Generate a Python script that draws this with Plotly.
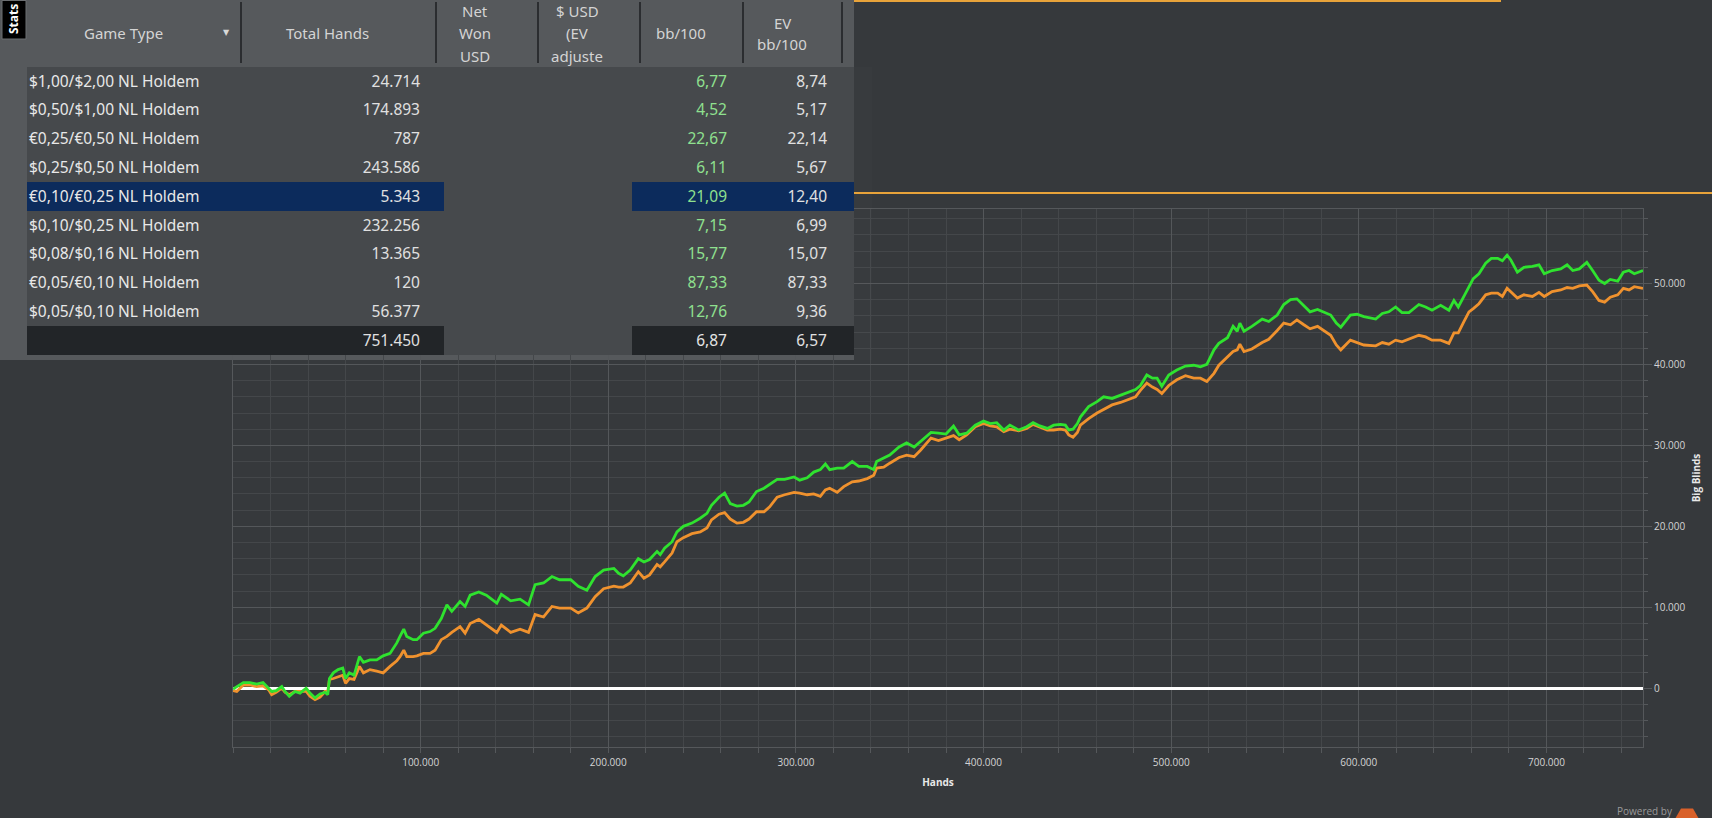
import plotly.graph_objects as go

W, H = 1712, 818

# cumulative result over the session: hands (thousands), bb won (thousands), EV bb (thousands)
hands_k = [0, 2, 5.5, 9, 12.6, 16, 19, 20.6, 23, 26, 27.7, 30, 33, 35.7, 39, 41, 43.7, 46.4, 49, 50.5,
           51.4, 53.5, 56, 58.5, 60, 62, 64.5, 67.4, 69.5, 73, 76.6, 80, 83.7, 87.3, 89, 91, 92.6, 96, 98,
           101.5, 105, 107.7, 111, 114, 116.6, 121, 123.7, 126.4, 131, 135, 140.6, 143, 148, 153, 157.5,
           161, 165.5, 170, 174, 180, 184, 188.6, 193, 197.5, 203, 205.5, 208, 211.7, 216, 219, 222, 226,
           227.7, 230, 234, 236.6, 240, 244.6, 249, 252.6, 255, 259, 262, 265, 268.6, 272, 275, 279, 283,
           286, 290, 294, 299, 302, 306, 309.5, 313, 315.7, 318, 322, 325.5, 330, 333.5, 338, 341.5, 343,
           346.8, 350, 355, 359, 363, 366.4, 372, 376, 380, 384, 387, 391, 395.6, 400, 403.6, 407, 410.8,
           414, 418.7, 423, 426.4, 430, 434, 437.4, 441, 443.6, 445.4, 447.7, 450, 451.6, 456, 460.5, 464,
           468.5, 473, 477.4, 481, 483.6, 487, 490, 492.5, 495, 498.7, 503, 507.6, 512, 515.6, 519, 522.8,
           525.4, 530, 533, 535.2, 536.6, 538.8, 543, 548.5, 552, 556.5, 560, 563.6, 567, 570.7, 574, 578,
           581.5, 585, 588, 590.4, 595.5, 599, 602.7, 609, 612.5, 616, 619.6, 623, 626.7, 632, 635.6, 639,
           643.6, 648, 650.7, 653, 656, 658.7, 661, 664, 667.6, 670.6, 674, 676.5, 679, 681, 684.5, 688,
           692.5, 696, 698.8, 703, 707.6, 711, 714, 717.5, 721.5, 724.6, 728, 731, 734, 738, 741, 744,
           746.8, 751.45]
won_k = [-0.1, 0.2, 0.7, 0.7, 0.5, 0.7, 0.0, -0.4, -0.3, 0.2, -0.4, -1.0, -0.4, -0.6, 0.0, -0.6, -1.2, -0.7, -0.5, -0.8,
         1.2, 1.9, 2.3, 2.5, 1.2, 1.9, 1.6, 3.9, 3.2, 3.5, 3.5, 4.0, 4.3, 5.6, 6.4, 7.3, 6.4, 6.0, 6.0,
         6.8, 7.0, 7.4, 8.6, 10.3, 9.5, 10.7, 10.1, 11.5, 11.9, 11.5, 10.5, 11.6, 10.8, 11.0, 10.3,
         12.8, 13.0, 13.8, 13.4, 13.4, 12.6, 12.1, 13.8, 14.6, 14.8, 14.2, 13.9, 14.6, 16.0, 15.6, 15.9, 16.9,
         16.5, 17.3, 18.1, 19.3, 20.0, 20.4, 21.0, 21.6, 22.6, 23.6, 24.1, 22.8, 22.5, 22.6, 23.0, 24.3, 24.7,
         25.2, 25.8, 25.8, 26.1, 25.7, 26.0, 26.7, 27.0, 27.7, 27.0, 27.2, 27.2, 28.0, 27.4, 27.4, 27.0, 28.0,
         28.4, 28.8, 29.8, 30.3, 29.8, 30.5, 31.6, 31.5, 31.4, 32.4, 31.3, 31.5, 32.5, 33.0, 32.7, 32.8, 31.9,
         32.5, 31.9, 32.3, 32.8, 32.4, 32.1, 32.5, 32.6, 32.5, 31.9, 32.0, 32.7, 33.5, 34.8, 35.4, 36.0,
         35.8, 36.2, 36.5, 36.9, 37.4, 38.7, 38.3, 38.3, 37.3, 38.7, 39.3, 39.8, 39.9, 39.7, 40.0, 41.8,
         42.6, 43.3, 44.7, 44.1, 45.1, 44.1, 44.7, 45.6, 45.3, 46.1, 47.4, 48.0, 48.1, 47.3, 46.5, 46.8,
         46.4, 46.1, 45.1, 44.6, 46.1, 46.2, 45.9, 45.6, 46.3, 46.5, 47.1, 46.4, 46.4, 47.4, 47.1, 46.7,
         47.3, 46.7, 47.9, 47.1, 48.4, 49.6, 50.6, 51.2, 52.5, 53.1, 53.1, 52.8, 53.5, 52.9, 51.4, 52.0,
         52.1, 52.3, 51.2, 51.6, 51.8, 52.3, 51.6, 51.8, 52.6, 51.6, 50.4, 50.0, 50.5, 50.3, 51.4, 51.6,
         51.2, 51.6]
ev_k = [-0.3, -0.4, 0.4, 0.4, 0.2, 0.3, -0.2, -0.8, -0.5, 0.0, -0.5, -0.8, -0.4, -0.4, -0.4, -1.0, -1.4, -1.1, -0.4, -0.4,
        1.1, 1.2, 1.4, 1.6, 0.6, 1.2, 1.1, 2.7, 1.9, 2.3, 2.1, 1.9, 2.7, 3.4, 3.9, 4.7, 3.9, 3.9, 4.0,
        4.3, 4.3, 4.7, 6.0, 6.4, 6.9, 7.6, 6.8, 8.0, 8.5, 7.8, 6.9, 7.8, 6.9, 7.3, 6.9,
        9.1, 8.8, 10.1, 9.9, 9.9, 9.3, 9.9, 11.3, 12.3, 12.6, 12.5, 12.5, 13.0, 14.4, 13.6, 14.0, 15.3,
        15.0, 15.6, 16.7, 18.1, 18.6, 19.1, 19.3, 19.8, 20.8, 21.5, 21.7, 20.9, 20.4, 20.5, 20.9, 21.8, 21.8,
        22.4, 23.6, 23.9, 24.2, 24.1, 23.9, 24.0, 23.7, 24.5, 24.7, 24.2, 24.9, 25.5, 25.6, 25.9, 26.3, 27.2,
        27.3, 27.8, 28.5, 28.8, 28.6, 29.4, 30.9, 30.6, 30.9, 31.2, 30.7, 31.3, 32.3, 32.7, 32.4, 32.3, 31.7,
        32.0, 31.8, 32.1, 32.6, 32.3, 31.9, 31.9, 32.0, 31.9, 31.3, 31.0, 31.6, 32.5, 33.3, 34.0, 34.4,
        35.0, 35.3, 35.7, 36.0, 36.8, 37.7, 37.2, 36.9, 36.4, 37.4, 38.1, 38.6, 38.3, 38.3, 37.9, 38.9,
        39.9, 41.0, 41.6, 41.8, 42.5, 41.6, 41.9, 42.7, 43.1, 44.2, 45.1, 44.9, 45.5, 44.9, 44.4, 44.7,
        44.2, 43.6, 42.4, 41.8, 43.0, 42.7, 42.4, 42.3, 42.7, 42.5, 43.0, 42.8, 43.1, 43.6, 43.4, 43.0,
        43.0, 42.6, 43.9, 43.9, 45.3, 46.5, 46.9, 47.5, 48.6, 48.8, 48.8, 48.4, 49.4, 49.0, 48.2, 48.6,
        48.4, 48.9, 48.4, 49.0, 49.2, 49.5, 49.4, 49.7, 49.8, 49.0, 47.9, 47.7, 48.3, 48.6, 49.4, 49.2,
        49.6, 49.4]

# stats table
game_types = ["$1,00/$2,00 NL Holdem", "$0,50/$1,00 NL Holdem", "€0,25/€0,50 NL Holdem",
              "$0,25/$0,50 NL Holdem", "€0,10/€0,25 NL Holdem", "$0,10/$0,25 NL Holdem",
              "$0,08/$0,16 NL Holdem", "€0,05/€0,10 NL Holdem", "$0,05/$0,10 NL Holdem"]
total_hands = [24714, 174893, 787, 243586, 5343, 232256, 13365, 120, 56377]
bb_100 = [6.77, 4.52, 22.67, 6.11, 21.09, 7.15, 15.77, 87.33, 12.76]
ev_bb_100 = [8.74, 5.17, 22.14, 5.67, 12.40, 6.99, 15.07, 87.33, 9.36]
sum_hands, sum_bb, sum_ev = 751450, 6.87, 6.57
selected_row = 4
header_labels = [["Game Type"], ["Total Hands"], ["Net", "Won", "USD"], ["$ USD", "(EV", "adjuste"],
                 ["bb/100"], ["EV", "bb/100"]]
header_centers = [124, 327, 475, 577, 681, 782]
header_seps = [241, 436, 538, 640, 743, 842]


def eu_int(v):
    return f"{v:,}".replace(",", ".")


def eu_dec(v):
    return f"{v:.2f}".replace(".", ",")


def px(x):
    return x / W


def py(y):
    return 1 - y / H


BG = "#36393c"
HEAD = "#56595c"
BODY = "#46494c"
SEL = "#0c2b5c"
TOT = "#222528"
GREEN_TXT = "#8fe08f"
TXT = "#e0e0e0"

n = len(game_types)
hl = [SEL if i == selected_row else BODY for i in range(n)] + [TOT]
plain = [BODY] * (n + 1)
# columns: game type, hands, filler, net won + $ usd (empty), bb/100, ev bb/100, filler
fills = [hl, hl, hl, plain, hl, hl, hl]
blank = [""] * (n + 1)
cells = [game_types + [""],
         [eu_int(v) for v in total_hands] + [eu_int(sum_hands)],
         blank, blank,
         [eu_dec(v) for v in bb_100] + [eu_dec(sum_bb)],
         [eu_dec(v) for v in ev_bb_100] + [eu_dec(sum_ev)],
         blank]
font_cols = [["#e8e8e8"] * (n + 1), [TXT] * (n + 1), [TXT] * (n + 1), [TXT] * (n + 1),
             [GREEN_TXT] * n + ["#e4e4e4"], [TXT] * (n + 1), [TXT] * (n + 1)]

fig = go.Figure()

fig.add_trace(go.Scatter(x=[h * 1000 for h in hands_k], y=[v * 1000 for v in ev_k],
                         mode="lines", line=dict(color="#f0922e", width=2.8), name="EV"))
fig.add_trace(go.Scatter(x=[h * 1000 for h in hands_k], y=[v * 1000 for v in won_k],
                         mode="lines", line=dict(color="#2fe22f", width=2.8), name="Won"))

fig.add_trace(go.Table(
    domain=dict(x=[px(21), px(854)], y=[py(360), 1]),
    columnwidth=[220, 187, 16, 188, 103, 100, 19],
    header=dict(values=[""] * 7, height=67, fill_color=HEAD,
                line=dict(width=0, color=HEAD),
                font=dict(family="Noto Sans", size=15, color="#d8d8d8")),
    cells=dict(values=cells, height=28.8, fill_color=fills,
               align=["left", "right", "right", "right", "right", "right", "left"],
               line=dict(width=0, color=BODY),
               font=dict(family="Noto Sans", size=15.5, color=font_cols)),
))

shapes = [
    # table panel background and stats tab
    dict(type="rect", xref="paper", yref="paper", x0=0, x1=px(854), y0=py(360), y1=1,
         fillcolor=HEAD, line_width=0, layer="below"),
    dict(type="rect", xref="paper", yref="paper", x0=px(2), x1=px(26), y0=py(39), y1=py(0.5),
         fillcolor="#000000", line=dict(color="#6b6e71", width=1), layer="above"),
    # orange dividers
    dict(type="line", xref="paper", yref="paper", x0=px(854), x1=px(1501), y0=py(1), y1=py(1),
         line=dict(color="#e8a33a", width=2)),
    dict(type="line", xref="paper", yref="paper", x0=px(854), x1=1, y0=py(193), y1=py(193),
         line=dict(color="#e8a33a", width=2)),
    # logo
    dict(type="path", xref="paper", yref="paper", fillcolor="#d9612a", line_width=0,
         path=f"M {px(1681)} {py(808.6)} L {px(1693)} {py(808.6)} L {px(1699)} {py(819)} "
              f"L {px(1693)} {py(829.4)} L {px(1681)} {py(829.4)} L {px(1675)} {py(819)} Z"),
]

annotations = [
    # left strip of the stats panel, over the table edge
    dict(x=px(21), y=py(67), xref="paper", yref="paper", text="", width=6, height=293,
         bgcolor=HEAD, borderpad=0, borderwidth=0, xanchor="left", yanchor="top", showarrow=False),
    dict(x=px(14), y=py(19), xref="paper", yref="paper", text="<b>Stats</b>", textangle=-90,
         xanchor="center", yanchor="middle", showarrow=False,
         font=dict(family="Noto Sans", size=12, color="#ffffff")),
    dict(x=px(226), y=py(33), xref="paper", yref="paper", text="▼", showarrow=False,
         xanchor="center", yanchor="middle",
         font=dict(family="DejaVu Sans", size=8, color="#d8d8d8")),
    dict(x=px(1675), y=py(811), xref="paper", yref="paper", text="Powered by", showarrow=False,
         xanchor="right", yanchor="middle", font=dict(family="Open Sans", size=10, color="#9a9a9a")),
]
for lines, cx in zip(header_labels, header_centers):
    top = 33.5 - 11 * (len(lines) - 1)
    for k, line in enumerate(lines):
        annotations.append(dict(x=px(cx), y=py(top + 22 * k), xref="paper", yref="paper", text=line,
                                xanchor="center", yanchor="middle", showarrow=False,
                                font=dict(family="Noto Sans", size=15, color="#d4d4d4")))
for sx in header_seps:
    annotations.append(dict(x=px(sx), y=py(33), xref="paper", yref="paper", text="", width=2,
                            height=61, bgcolor="#2b2d30", borderpad=0, borderwidth=0,
                            xanchor="center", yanchor="middle", showarrow=False))

tick_font = dict(family="Open Sans", size=10, color="#d4d4d4")
title_font = dict(family="Open Sans", size=10, color="#e8e8e8", weight="bold")

fig.update_layout(
    width=W, height=H,
    margin=dict(l=0, r=0, t=0, b=0),
    paper_bgcolor=BG, plot_bgcolor=BG,
    separators=",.",
    showlegend=False,
    shapes=shapes,
    annotations=annotations,
    xaxis=dict(domain=[px(233), px(1643)], range=[0, 751450],
               tickmode="array", tickvals=[100000 * k for k in range(1, 8)], tickformat=",d",
               ticks="", showgrid=True, gridcolor="#54575a", gridwidth=1,
               minor=dict(tickmode="linear", tick0=0, dtick=20000, showgrid=True,
                          gridcolor="#44474a", ticks="outside", ticklen=5, tickcolor="#55585b"),
               showline=True, mirror=True, linecolor="#55585b", zeroline=False,
               tickfont=tick_font, ticklabelstandoff=6,
               title=dict(text="Hands", font=title_font, standoff=10)),
    yaxis=dict(domain=[py(747), py(209)], range=[-7260, 59200], side="right",
               tickmode="array", tickvals=[10000 * k for k in range(0, 6)], tickformat=",d",
               ticks="outside", ticklen=8, tickcolor="#55585b",
               showgrid=True, gridcolor="#54575a", gridwidth=1,
               minor=dict(tickmode="linear", tick0=0, dtick=2000, showgrid=True,
                          gridcolor="#44474a", ticks="outside", ticklen=4, tickcolor="#55585b"),
               showline=True, mirror=True, linecolor="#55585b",
               zeroline=True, zerolinecolor="#ffffff", zerolinewidth=2.5, layer="above traces",
               tickfont=tick_font,
               title=dict(text="Big Blinds", font=title_font, standoff=8)),
)

fig.write_html("out.html", config={"displayModeBar": False},
               post_script="document.body.style.margin='0';document.body.style.overflow='hidden';")
